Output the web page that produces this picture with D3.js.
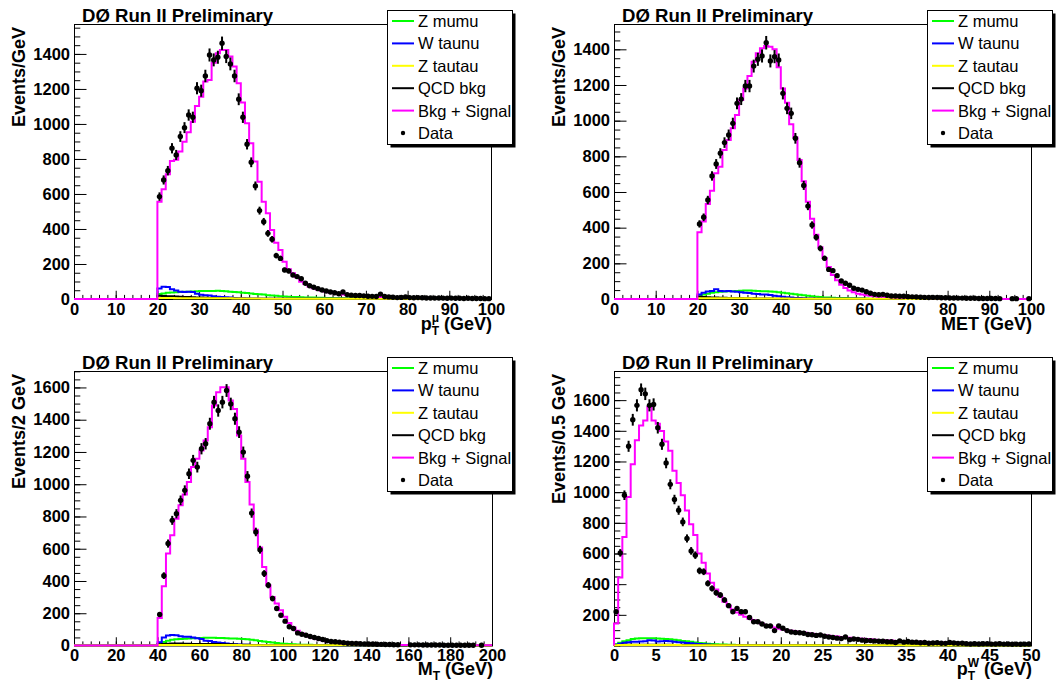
<!DOCTYPE html>
<html>
<head>
<meta charset="utf-8">
<script src="https://cdn.jsdelivr.net/npm/d3@7"></script>
<style>
  body { margin: 0; background: #fff; }
  svg { display: block; }
  text { font-family: "Liberation Sans", Arial, Helvetica, sans-serif; }
</style>
</head>
<body>
<script>
// ---- data (events per bin, 100 bins per plot) ----

// muon pT, 1 GeV bins, 0-100
const ptmuData = [
  0,0,0,0,0,0,0,0,0,0, 0,0,0,0,0,0,0,0,0,0,
  585,680,733,861,823,928,979,1051,1038,1204,
  1190,1274,1394,1366,1381,1461,1385,1343,1274,1141,
  1038,884,781,646,505,442,375,341,248,232,
  166,160,137,128,116,90,76,67,59,51,
  46,40,36,30,40,25,22,20,20,18,
  16,15,14,28,14,12,10,8,9,12,
  8,7,8,7,6,6,5,6,5,4,
  5,4,4,3,4,3,3,3,2,2]
const ptmuSum = [
  0,0,0,0,0,0,0,0,0,0, 0,0,0,0,0,0,0,0,0,0,
  556,627,712,789,795,842,899,952,1013,1103,
  1156,1242,1251,1350,1404,1423,1423,1385,1328,1232,
  1122,1004,890,785,670,556,490,394,322,280,
  213,170,147,124,99,85,72,62,54,47,
  42,37,33,29,26,23,21,19,17,16,
  15,14,13,12,11,10,9,9,8,8,
  7,7,6,6,6,5,5,5,4,4,
  4,4,3,3,3,3,3,2,2,2]
const ptmuZmumu = [
  0,0,0,0,0,0,0,0,0,0, 0,0,0,0,0,0,0,0,0,0,
  28,32,35,37,38,40,41,42,43,44,
  45,45,46,46,47,46,44,42,40,38,
  36,34,31,29,27,25,22,20,18,16,
  14,13,12,11,10,9,8,8,7,7,
  6,6,5,5,5,4,4,4,3,3,
  3,3,3,2,2,2,2,2,2,2,
  1,1,1,1,1,1,1,1,1,1,
  1,1,1,1,1,1,1,1,1,1]
const ptmuWtaunu = [
  0,0,0,0,0,0,0,0,0,0, 0,0,0,0,0,0,0,0,0,0,
  60,70,68,55,48,42,40,42,40,30,
  24,22,20,15,13,12,10,8,6,5,
  4,4,3,3,3,2,2,2,2,2,
  1,1,1,1,1,1,1,1,1,1,
  1,1,1,1,1,1,1,1,1,1,
  0,0,0,0,0,0,0,0,0,0,
  0,0,0,0,0,0,0,0,0,0,
  0,0,0,0,0,0,0,0,0,0]
const ptmuZtautau = [
  0,0,0,0,0,0,0,0,0,0, 0,0,0,0,0,0,0,0,0,0,
  6,6,6,6,5,5,5,5,5,5,
  5,5,4,4,4,4,4,4,3,3,
  3,3,3,3,3,2,2,2,2,2,
  2,2,2,2,1,1,1,1,1,1,
  1,1,1,1,1,1,1,1,1,1,
  1,1,1,1,1,1,1,1,1,1,
  0,0,0,0,0,0,0,0,0,0,
  0,0,0,0,0,0,0,0,0,0]
const ptmuQcd = [
  0,0,0,0,0,0,0,0,0,0, 0,0,0,0,0,0,0,0,0,0,
  18,17,16,15,14,13,12,11,10,9,
  8,7,6,6,5,5,4,4,3,3,
  3,2,2,2,2,2,2,2,2,2,
  1,1,1,1,1,1,1,1,1,1,
  1,1,1,1,1,1,1,1,1,1,
  0,0,0,0,0,0,0,0,0,0,
  0,0,0,0,0,0,0,0,0,0,
  0,0,0,0,0,0,0,0,0,0]

// missing ET, 1 GeV bins, 0-100
const metData = [
  0,0,0,0,0,0,0,0,0,0, 0,0,0,0,0,0,0,0,0,0,
  421,458,555,690,757,817,877,920,985,1097,
  1121,1194,1194,1306,1344,1363,1437,1335,1359,1340,
  1153,1069,1041,901,764,637,521,415,346,284,
  228,166,159,131,101,88,77,60,54,50,
  41,32,26,24,26,21,17,17,15,15,
  13,12,11,10,9,8,9,8,7,7,
  6,6,5,5,4,4,4,3,3,3,
  3,3,2,0,0,2,2,0,0,2]
const metSum = [
  0,0,0,0,0,0,0,0,0,0, 0,0,0,0,0,0,0,0,0,0,
  374,434,533,607,705,742,836,892,957,1032,
  1116,1181,1250,1331,1378,1406,1419,1415,1400,1300,
  1180,1100,980,905,780,660,545,450,360,290,
  230,180,135,105,80,62,48,38,30,25,
  21,18,15,13,12,11,10,9,8,7,
  7,6,6,5,5,5,4,4,4,3,
  3,3,3,3,2,2,2,2,2,2,
  2,2,2,0,0,0,0,0,0,2]
const metZmumu = [
  0,0,0,0,0,0,0,0,0,0, 0,0,0,0,0,0,0,0,0,0,
  15,25,30,35,38,40,42,43,44,45,
  46,47,47,46,45,44,43,42,40,38,
  35,32,30,27,24,21,18,15,13,11,
  9,8,7,6,5,5,4,4,3,3,
  3,2,2,2,2,2,1,1,1,1,
  1,1,1,1,1,1,1,1,1,1,
  0,0,0,0,0,0,0,0,0,0,
  0,0,0,0,0,0,0,0,0,0]
const metWtaunu = [
  0,0,0,0,0,0,0,0,0,0, 0,0,0,0,0,0,0,0,0,0,
  25,35,42,45,55,45,44,45,42,40,
  38,35,33,30,28,25,25,22,18,15,
  12,10,8,6,5,4,3,3,2,2,
  2,1,1,1,1,1,1,1,1,1,
  0,0,0,0,0,0,0,0,0,0,
  0,0,0,0,0,0,0,0,0,0,
  0,0,0,0,0,0,0,0,0,0,
  0,0,0,0,0,0,0,0,0,0]
const metZtautau = [
  0,0,0,0,0,0,0,0,0,0, 0,0,0,0,0,0,0,0,0,0,
  4,4,4,4,4,4,4,4,4,4,
  4,4,4,3,3,3,3,3,3,3,
  3,3,2,2,2,2,2,2,2,2,
  2,2,1,1,1,1,1,1,1,1,
  1,1,1,1,1,1,1,1,1,1,
  0,0,0,0,0,0,0,0,0,0,
  0,0,0,0,0,0,0,0,0,0,
  0,0,0,0,0,0,0,0,0,0]
const metQcd = [
  0,0,0,0,0,0,0,0,0,0, 0,0,0,0,0,0,0,0,0,0,
  12,11,10,9,8,7,7,6,6,5,
  5,4,4,4,3,3,3,3,2,2,
  2,2,2,2,2,1,1,1,1,1,
  1,1,1,1,1,1,1,1,1,1,
  0,0,0,0,0,0,0,0,0,0,
  0,0,0,0,0,0,0,0,0,0,
  0,0,0,0,0,0,0,0,0,0,
  0,0,0,0,0,0,0,0,0,0]

// transverse mass, 2 GeV bins, 0-200
const mtData = [
  0,0,0,0,0,0,0,0,0,0, 0,0,0,0,0,0,0,0,0,0,
  192,433,632,776,817,900,962,1065,1148,1106,
  1220,1251,1375,1509,1457,1509,1581,1498,1406,1323,
  1199,1049,821,704,594,446,374,291,229,188,
  151,116,105,78,70,64,56,50,43,37,
  29,25,23,21,17,14,13,12,11,10,
  9,9,8,7,6,6,5,5,0,0,
  4,4,4,3,3,3,3,3,2,2,
  2,2,2,2,2,2,0,2,0,0]
const mtSum = [
  0,0,0,0,0,0,0,0,0,0, 0,0,0,0,0,0,0,0,0,0,
  171,367,570,683,786,869,937,1013,1106,1158,
  1209,1271,1354,1488,1571,1602,1602,1519,1467,1302,
  1158,1013,875,718,607,487,374,301,260,219,
  178,140,111,91,74,64,54,45,39,33,
  27,22,18,15,13,11,10,9,8,7,
  6,6,5,5,4,4,4,3,3,3,
  3,2,2,2,2,2,2,2,1,1,
  1,1,1,1,1,1,1,1,1,1]
const mtZmumu = [
  0,0,0,0,0,0,0,0,0,0, 0,0,0,0,0,0,0,0,0,0,
  10,22,30,35,38,40,42,44,45,46,
  47,48,48,48,47,46,45,44,43,42,
  40,38,35,32,28,25,22,19,16,13,
  11,9,7,6,5,4,4,3,3,2,
  2,2,2,1,1,1,1,1,1,1,
  1,1,1,1,1,1,1,1,1,1,
  0,0,0,0,0,0,0,0,0,0,
  0,0,0,0,0,0,0,0,0,0]
const mtWtaunu = [
  0,0,0,0,0,0,0,0,0,0, 0,0,0,0,0,0,0,0,0,0,
  20,50,62,65,64,58,55,55,50,45,
  40,30,28,22,18,15,12,10,8,6,
  5,4,3,3,2,2,2,1,1,1,
  1,1,1,1,1,1,1,1,1,1,
  0,0,0,0,0,0,0,0,0,0,
  0,0,0,0,0,0,0,0,0,0,
  0,0,0,0,0,0,0,0,0,0,
  0,0,0,0,0,0,0,0,0,0]
const mtZtautau = [
  0,0,0,0,0,0,0,0,0,0, 0,0,0,0,0,0,0,0,0,0,
  3,3,3,3,3,3,3,3,3,3,
  3,3,3,3,3,3,3,3,3,3,
  2,2,2,2,2,2,2,2,2,2,
  2,2,2,2,2,2,2,2,2,2,
  1,1,1,1,1,1,1,1,1,1,
  1,1,1,1,1,1,1,1,1,1,
  0,0,0,0,0,0,0,0,0,0,
  0,0,0,0,0,0,0,0,0,0]
const mtQcd = [
  0,0,0,0,0,0,0,0,0,0, 0,0,0,0,0,0,0,0,0,0,
  8,10,11,12,12,12,11,11,10,10,
  10,10,9,9,9,8,8,7,6,5,
  4,4,3,3,3,2,2,2,2,2,
  1,1,1,1,1,1,1,1,1,1,
  1,1,1,1,1,1,1,1,1,1,
  0,0,0,0,0,0,0,0,0,0,
  0,0,0,0,0,0,0,0,0,0,
  0,0,0,0,0,0,0,0,0,0]

// W pT, 0.5 GeV bins, 0-50
const ptwData = [
  220,604,980,1299,1472,1566,1668,1641,1566,1572,
  1420,1312,1190,1051,952,882,806,698,617,589,
  487,481,405,372,344,329,297,260,220,242,
  220,220,183,155,155,140,127,127,97,127,
  112,97,88,85,83,80,72,70,66,68,
  60,55,52,48,45,55,38,42,40,35,
  33,32,30,28,28,24,25,20,30,22,
  26,22,22,18,20,15,16,18,15,14,
  20,16,14,15,12,10,12,10,11,12,
  9,10,11,9,10,8,9,8,9,10]
const ptwSum = [
  144,444,708,969,1182,1338,1435,1468,1555,1468,
  1446,1398,1330,1270,1140,1060,980,880,790,720,
  600,540,470,410,365,320,285,260,235,215,
  200,188,175,165,152,142,134,127,118,110,
  105,100,96,92,88,84,80,77,73,70,
  67,64,61,58,55,52,50,48,46,44,
  42,40,38,36,35,33,32,30,29,28,
  27,26,25,24,23,22,21,20,19,18,
  17,17,16,15,15,14,14,13,13,12,
  12,11,11,10,10,10,9,9,9,8]
const ptwZmumu = [
  8,18,28,35,42,46,48,48,48,47,
  46,44,42,40,37,34,30,27,24,20,
  17,14,12,10,8,7,6,5,5,4,
  4,4,3,3,3,3,3,2,2,2,
  2,2,2,2,2,2,2,2,2,2,
  1,1,1,1,1,1,1,1,1,1,
  1,1,1,1,1,1,1,1,1,1,
  1,1,1,1,1,1,1,1,1,1,
  0,0,0,0,0,0,0,0,0,0,
  0,0,0,0,0,0,0,0,0,0]
const ptwWtaunu = [
  5,12,18,22,24,25,26,28,34,32,
  26,28,30,28,24,22,20,16,14,12,
  10,8,6,5,4,3,3,2,2,2,
  1,1,1,1,1,1,1,1,1,1,
  1,1,1,1,1,1,1,1,1,1,
  0,0,0,0,0,0,0,0,0,0,
  0,0,0,0,0,0,0,0,0,0,
  0,0,0,0,0,0,0,0,0,0,
  0,0,0,0,0,0,0,0,0,0,
  0,0,0,0,0,0,0,0,0,0]
const ptwZtautau = [
  2,3,3,3,3,3,3,3,3,3,
  3,3,3,3,3,3,2,2,2,2,
  2,2,2,2,2,2,2,2,2,2,
  2,2,2,2,2,2,2,2,2,2,
  1,1,1,1,1,1,1,1,1,1,
  1,1,1,1,1,1,1,1,1,1,
  1,1,1,1,1,1,1,1,1,1,
  0,0,0,0,0,0,0,0,0,0,
  0,0,0,0,0,0,0,0,0,0,
  0,0,0,0,0,0,0,0,0,0]
const ptwQcd = [
  2,4,5,5,5,5,5,5,5,5,
  5,5,5,5,4,4,4,4,4,4,
  3,3,3,3,3,3,3,3,3,3,
  2,2,2,2,2,2,2,2,2,2,
  2,2,2,2,2,2,2,2,2,2,
  1,1,1,1,1,1,1,1,1,1,
  1,1,1,1,1,1,1,1,1,1,
  1,1,1,1,1,1,1,1,1,1,
  0,0,0,0,0,0,0,0,0,0,
  0,0,0,0,0,0,0,0,0,0]

// ---- tick labels ----
const xTicks100 = [0,10,20,30,40,50,60,70,80,90,100]
const xTicks200 = [0,20,40,60,80,100,120,140,160,180,200]
const xTicks50 = [0,5,10,15,20,25,30,35,40,45,50]
const yTicks1400 = [0,200,400,600,800,1000,1200,1400]
const yTicks1600 = [0,200,400,600,800,1000,1200,1400,1600]
const yTicks1600NoZero = [200,400,600,800,1000,1200,1400,1600]

// ---- legend ----
const legendNames = ['Z mumu', 'W taunu', 'Z tautau', 'QCD bkg', 'Bkg + Signal', 'Data']
const legendColors = ['#00ff00', '#0000ff', '#ffff00', '#000000', '#ff00ff', '#000000']

const W = 1058, H = 684
const svg = d3.select('body').append('svg').attr('width', W).attr('height', H)
svg.append('rect').attr('width', W).attr('height', H).attr('fill', '#fff')

const panels = [
  { left: 74, right: 491, top: 24, bottom: 299, xMax: 100, xMinor: 2, yMax: 1571,
    xTicks: xTicks100, yTicks: yTicks1400, yTitle: 'Events/GeV', yTitleX: 25,
    xTitle: { base: 'p', sub: 'T', sup: 'μ' }, titleY: 330,
    hists: [ptmuZmumu, ptmuWtaunu, ptmuQcd, ptmuZtautau, ptmuSum], data: ptmuData,
    legendX: 387, legendY: 10 },
  { left: 614, right: 1031, top: 24, bottom: 299, xMax: 100, xMinor: 2, yMax: 1542,
    xTicks: xTicks100, yTicks: yTicks1400, yTitle: 'Events/GeV', yTitleX: 565,
    xTitle: { base: 'MET' }, titleY: 330,
    hists: [metZmumu, metWtaunu, metQcd, metZtautau, metSum], data: metData,
    legendX: 927, legendY: 10 },
  { left: 74, right: 492, top: 371, bottom: 645.5, xMax: 200, xMinor: 4, yMax: 1702,
    xTicks: xTicks200, yTicks: yTicks1600, yTitle: 'Events/2 GeV', yTitleX: 25,
    xTitle: { base: 'M', sub: 'T' }, titleY: 674.5,
    hists: [mtZmumu, mtWtaunu, mtQcd, mtZtautau, mtSum], data: mtData,
    legendX: 387, legendY: 357 },
  { left: 614, right: 1031, top: 371, bottom: 645.5, xMax: 50, xMinor: 1, yMax: 1790,
    xTicks: xTicks50, yTicks: yTicks1600NoZero, yTitle: 'Events/0.5 GeV', yTitleX: 565,
    xTitle: { base: 'p', sub: 'T', sup: 'W' }, titleY: 674.5,
    hists: [ptwZmumu, ptwWtaunu, ptwQcd, ptwZtautau, ptwSum], data: ptwData,
    legendX: 927, legendY: 357 }
]
// colours of the histograms in drawing order
const histColors = ['#00ff00', '#0000ff', '#000000', '#ffff00', '#ff00ff']

const styleTicks = sel => {
  sel.select('.domain').remove()
  sel.selectAll('text').attr('font-size', 16.5).attr('font-weight', 'bold')
    .attr('font-family', '"Liberation Sans", Arial, Helvetica, sans-serif').attr('fill', '#000')
}

const drawPanel = (p) => {
  const g = svg.append('g')
  const x = d3.scaleLinear().domain([0, p.xMax]).range([p.left, p.right])
  const y = d3.scaleLinear().domain([0, p.yMax]).range([p.bottom, p.top])
  const binW = p.xMax / p.data.length

  // frame
  g.append('rect')
    .attr('x', p.left + 0.5).attr('y', Math.round(p.top) + 0.5)
    .attr('width', p.right - p.left).attr('height', p.bottom - p.top)
    .attr('fill', 'none').attr('stroke', '#000').attr('stroke-width', 1)

  // y ticks (minor then major with labels)
  g.append('g').attr('transform', `translate(${p.left},0)`)
    .call(d3.axisLeft(y).tickValues(d3.range(0, p.yMax, 50)).tickSize(-6.3).tickFormat(''))
    .call(styleTicks)
  g.append('g').attr('transform', `translate(${p.left},0)`)
    .call(d3.axisLeft(y).tickValues(p.yTicks).tickSize(-12.5).tickPadding(4).tickFormat(d3.format('d')))
    .call(styleTicks)

  // x ticks
  g.append('g').attr('transform', `translate(0,${p.bottom})`)
    .call(d3.axisBottom(x).tickValues(d3.range(0, p.xMax + 0.001, p.xMinor)).tickSize(-4.1).tickFormat(''))
    .call(styleTicks)
  g.append('g').attr('transform', `translate(0,${p.bottom})`)
    .call(d3.axisBottom(x).tickValues(p.xTicks).tickSize(-8.25).tickPadding(4).tickFormat(d3.format('d')))
    .call(styleTicks)

  // histograms as step lines
  const step = d3.line().x(d => x(d[0])).y(d => y(d[1])).curve(d3.curveStepAfter)
  const histPts = vals => [[0, 0], ...vals.map((v, i) => [i * binW, v]), [vals.length * binW, vals[vals.length - 1]]]
  g.selectAll('path.hist').data(p.hists).join('path')
    .attr('class', 'hist')
    .attr('d', d => step(histPts(d)))
    .attr('fill', 'none')
    .attr('stroke', (d, i) => histColors[i])
    .attr('stroke-width', 2)

  // data points with sqrt(N) error bars
  const pts = p.data.map((v, i) => ({ c: (i + 0.5) * binW, v })).filter(d => d.v > 0)
  g.selectAll('line.err').data(pts).join('line')
    .attr('class', 'err')
    .attr('x1', d => x(d.c)).attr('x2', d => x(d.c))
    .attr('y1', d => y(d.v + Math.sqrt(d.v))).attr('y2', d => y(Math.max(0, d.v - Math.sqrt(d.v))))
    .attr('stroke', '#000').attr('stroke-width', 2)
  g.selectAll('circle.pt').data(pts).join('circle')
    .attr('class', 'pt')
    .attr('cx', d => x(d.c)).attr('cy', d => y(d.v)).attr('r', 2.7)
    .attr('fill', '#000')

  // experiment label
  g.append('text').attr('x', p.left + 8).attr('y', p.top - 2.5)
    .attr('font-size', 18.6).attr('font-weight', 'bold').text('DØ Run II Preliminary')

  // y title
  g.append('text')
    .attr('transform', `translate(${p.yTitleX},${p.top + 3}) rotate(-90)`)
    .attr('text-anchor', 'end').attr('font-size', 18).attr('font-weight', 'bold')
    .text(p.yTitle)

  // x title with sub/superscript
  const t = g.append('text').attr('x', p.right + 1).attr('y', p.titleY)
    .attr('text-anchor', 'end').attr('font-size', 18).attr('font-weight', 'bold')
  t.append('tspan').text(p.xTitle.base)
  if (p.xTitle.sup) {
    const sup = t.append('tspan').attr('font-size', 12).attr('dy', -8).text(p.xTitle.sup)
    const supW = sup.node().getComputedTextLength()
    const sub = t.append('tspan').attr('font-size', 12).attr('dx', -supW).attr('dy', 13).text(p.xTitle.sub)
    const subW = sub.node().getComputedTextLength()
    t.append('tspan').attr('dx', Math.max(0, supW - subW)).attr('dy', -5).text(' (GeV)')
  } else if (p.xTitle.sub) {
    t.append('tspan').attr('font-size', 12).attr('dy', 5).text(p.xTitle.sub)
    t.append('tspan').attr('dy', -5).text(' (GeV)')
  } else {
    t.append('tspan').text(' (GeV)')
  }

  // legend
  const lw = 125, lh = 134
  const lg = svg.append('g').attr('transform', `translate(${p.legendX},${p.legendY})`)
  lg.append('rect').attr('x', 3.5).attr('y', 3.5).attr('width', lw).attr('height', lh).attr('fill', '#000')
  lg.append('rect').attr('x', 0.5).attr('y', 0.5).attr('width', lw).attr('height', lh)
    .attr('fill', '#fff').attr('stroke', '#000')
  const rows = lg.selectAll('g.row').data(legendNames).join('g')
    .attr('class', 'row')
    .attr('transform', (d, k) => `translate(0,${11 + k * 22.4})`)
  rows.filter((d, k) => k < 5).append('line')
    .attr('x1', 5).attr('x2', 27).attr('y1', 0).attr('y2', 0)
    .attr('stroke', (d, k) => legendColors[k]).attr('stroke-width', 2)
  rows.filter((d, k) => k === 5).append('circle')
    .attr('cx', 16).attr('cy', 0).attr('r', 2.2).attr('fill', legendColors[5])
  rows.append('text').attr('x', 31).attr('y', 0).attr('dy', '0.36em')
    .attr('font-size', 16.5).text(d => d)
}

panels.forEach(drawPanel)
</script>
</body>
</html>
